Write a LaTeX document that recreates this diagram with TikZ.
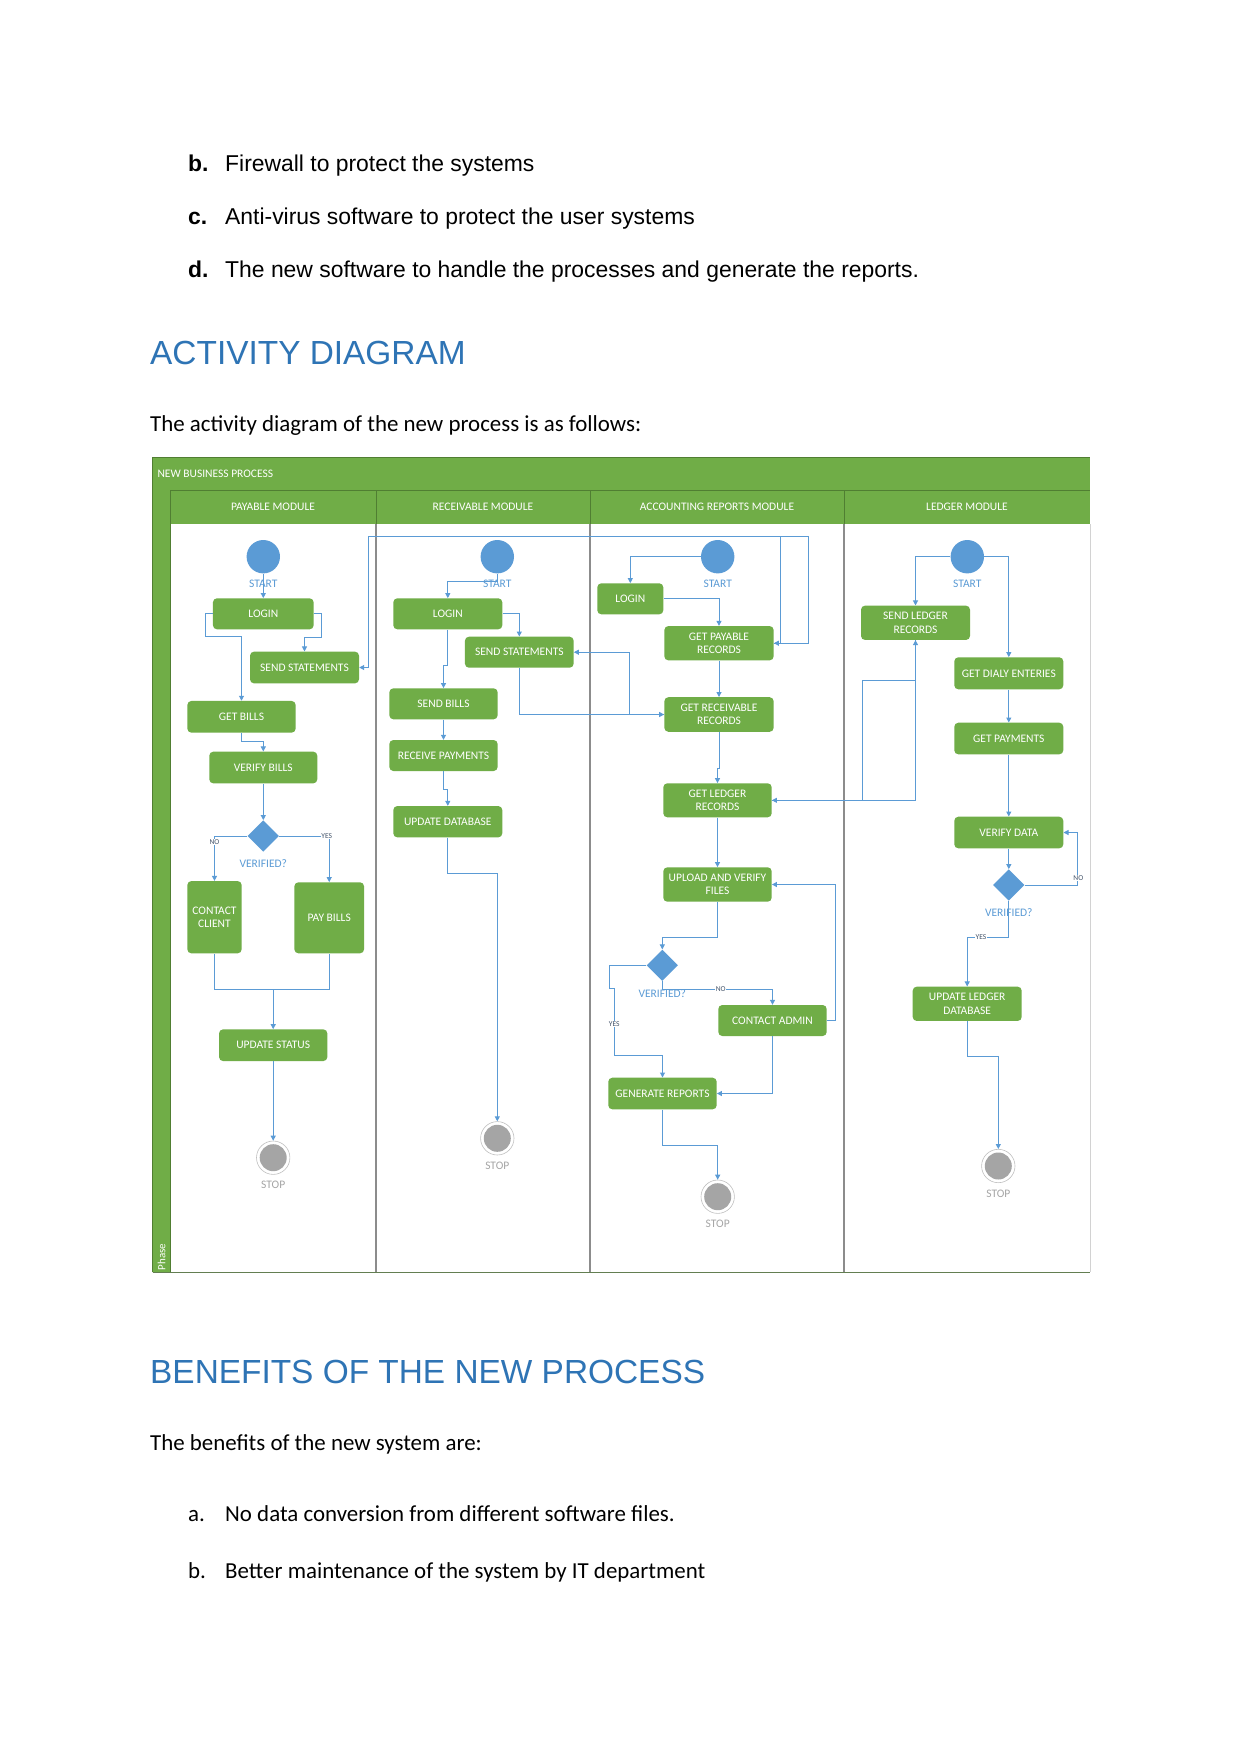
\documentclass[tikz,border=0pt]{standalone}
\usepackage{fontspec}
\setmainfont{Carlito}
\newfontfamily\arialf{Liberation Sans}
\usetikzlibrary{arrows.meta,shapes.geometric}
\definecolor{gfill}{HTML}{70AD47}
\definecolor{gdark}{HTML}{507E32}
\definecolor{cblue}{HTML}{5B9BD5}
\definecolor{hblue}{HTML}{2E74B5}
\definecolor{sgray}{HTML}{A5A5A5}
\definecolor{lgray}{HTML}{8C8C8C}
\definecolor{ynblue}{HTML}{44546A}
\begin{document}
\begin{tikzpicture}[x=1pt,y=-1pt,
  actbox/.style 2 args={fill=gfill, rounded corners=4pt, text=white, align=center, inner sep=0pt,
    minimum width=#1pt, minimum height=#2pt, font=\fontsize{11.5}{13.3}\selectfont},
  startnode/.style={circle, fill=cblue, minimum size=33.4pt, inner sep=0pt},
  decnode/.style={diamond, fill=cblue, minimum width=31.4pt, minimum height=31.4pt, inner sep=0pt},
  stopnode/.style={circle, draw=sgray!70, line width=0.6pt, fill=white, minimum size=33.4pt, inner sep=0pt},
  lab/.style={text=cblue, font=\fontsize{11.5}{13}\selectfont, inner sep=0pt},
  stoplab/.style={text=sgray, font=\fontsize{11.5}{13}\selectfont, inner sep=0pt},
  yn/.style={text=ynblue, font=\fontsize{7.5}{8}\selectfont, fill=white, inner sep=0.4pt},
  hdr/.style={text=white, font=\fontsize{11.5}{13}\selectfont, inner sep=0pt},
  conn/.style={draw=cblue, line width=1pt, -{Triangle[length=5pt,width=5pt]}},
  cline/.style={draw=cblue, line width=1pt},
  bodyA/.style={anchor=base west, inner sep=0pt, font=\arialf\fontsize{22.9}{27}\selectfont},
  bodyB/.style={anchor=base west, inner sep=0pt, font=\fontsize{22.9}{27}\selectfont},
  headS/.style={anchor=base west, inner sep=0pt, text=hblue, font=\arialf\fontsize{33.4}{40}\selectfont}
]
\useasboundingbox (0,0) rectangle (1241,1754);
\fill[white] (0,0) rectangle (1241,1754);

% ---------- page text ----------
\node[bodyA] (tb) at (188,171.5) {\bfseries b.};
\node[bodyA] (tb2) at (225,171.5) {Firewall to protect the systems};
\node[bodyA] (tc) at (188,224.5) {\bfseries c.};
\node[bodyA] (tc2) at (225,224.5) {Anti-virus software to protect the user systems};
\node[bodyA] (td) at (188,277) {\bfseries d.};
\node[bodyA] (td2) at (225,277) {The new software to handle the processes and generate the reports.};
\node[headS] (h1) at (150,364.5) {ACTIVITY DIAGRAM};
\node[bodyB] (p1) at (150,431.5) {The activity diagram of the new process is as follows:};
\node[headS] (h2) at (150,1383) {BENEFITS OF THE NEW PROCESS};
\node[bodyB] (p2) at (150,1450) {The benefits of the new system are:};
\node[bodyB] (ba) at (188,1521.5) {a.};
\node[bodyB] (ba2) at (225,1521.5) {No data conversion from different software files.};
\node[bodyB] (bb) at (188,1578.5) {b.};
\node[bodyB] (bb2) at (225,1578.5) {Better maintenance of the system by IT department};

% ---------- frame ----------
\fill[gfill] (152.7,457.7) rectangle (1090,490);
\fill[gfill] (152.7,490) rectangle (170,1272.3);
\fill[gfill] (170,490) rectangle (1090,524);
\draw[gdark, line width=1pt] (170,490) -- (1090,490);
\draw[gdark, line width=1pt] (170,490) -- (170,1272.3);
\draw[gdark, line width=0.8pt] (376,490) -- (376,524) (590,490) -- (590,524) (844,490) -- (844,524);
\draw[lgray, line width=1.3pt] (376,524) -- (376,1272.3) (590,524) -- (590,1272.3) (844,524) -- (844,1272.3);
\draw[gdark, line width=1pt] (152.7,1272.3) -- (152.7,457.7) -- (1090,457.7);
\draw[gdark!60!gray, line width=1pt] (152.7,1272.3) -- (1090,1272.3);
\draw[gray!35, line width=0.6pt] (1090,524) -- (1090,1272.3);
\node[hdr, anchor=west] (title) at (157.3,474) {NEW BUSINESS PROCESS};
\node[hdr] (hp) at (273,507) {PAYABLE MODULE};
\node[hdr] (hr) at (483,507) {RECEIVABLE MODULE};
\node[hdr] (ha) at (717,507) {ACCOUNTING REPORTS MODULE};
\node[hdr] (hl) at (967,507) {LEDGER MODULE};
\node[hdr, rotate=90, font=\fontsize{11}{12}\selectfont] (phase) at (161.5,1257) {Phase};

% ---------- payable lane ----------
\node[startnode] (pS) at (263.3,556.7) {};
\node[lab] (pSl) at (263.3,584) {START};
\node[actbox={100.7}{31}] (pLogin) at (263.3,613.8) {LOGIN};
\node[actbox={109}{31.7}] (pSend) at (304.5,667.5) {SEND STATEMENTS};
\node[actbox={108.3}{31.7}] (pGet) at (241.5,716.8) {GET BILLS};
\node[actbox={108}{31.7}] (pVer) at (263.3,767.5) {VERIFY BILLS};
\node[decnode] (pD) at (263.3,836) {};
\node[lab] (pDl) at (263.3,863.3) {VERIFIED?};
\node[actbox={54.3}{72.3}] (pCC) at (214.5,917.2) {CONTACT\\CLIENT};
\node[actbox={69.7}{71}] (pPay) at (329.2,917.8) {PAY BILLS};
\node[actbox={108.3}{31.7}] (pUpd) at (273.2,1045.2) {UPDATE STATUS};
\node[stopnode] (pStop) at (273.2,1157.7) {};
\fill[sgray] (pStop.center) circle (13.5pt);
\node[stoplab] (pStopl) at (273.2,1185) {STOP};
\coordinate (pJoin) at (273.2,989);

\draw[conn] (pS.south) -- (pLogin.north);
\draw[conn] (pLogin.east) -- (321,613.8) -- (321,637.7) -- (304.5,637.7) -- (pSend.north);
\draw[conn] (pLogin.west) -- (205.7,613.8) -- (205.7,636.7) -- (241.5,636.7) -- (pGet.north);
\draw[conn] (pGet.south) -- (241.5,741.7) -- (263.3,741.7) -- (pVer.north);
\draw[conn] (pVer.south) -- (pD.north);
\draw[conn] (pD.west) -- (214.5,836) -- (pCC.north);
\draw[conn] (pD.east) -- (329.2,836) -- (pPay.north);
\draw[cline] (pCC.south) -- (214.5,989) -- (329.2,989) -- (pPay.south);
\draw[conn] (pJoin) -- (pUpd.north);
\draw[conn] (pUpd.south) -- (pStop.north);
\node[yn] (pNo) at (214.5,842) {NO};
\node[yn] (pYes) at (326.7,836) {YES};

% ---------- receivable lane ----------
\node[startnode] (rS) at (497.3,556.7) {};
\node[lab] (rSl) at (497.3,584) {START};
\node[actbox={109}{31}] (rLogin) at (447.8,613.8) {LOGIN};
\node[actbox={108.7}{31}] (rSend) at (519.3,652.2) {SEND STATEMENTS};
\node[actbox={108.3}{31}] (rBills) at (443.5,703.8) {SEND BILLS};
\node[actbox={108.3}{31}] (rRecv) at (443.5,755.5) {RECEIVE PAYMENTS};
\node[actbox={109}{31.3}] (rUpd) at (447.8,821.7) {UPDATE DATABASE};
\node[stopnode] (rStop) at (497.3,1138.3) {};
\fill[sgray] (rStop.center) circle (13.5pt);
\node[stoplab] (rStopl) at (497.3,1165.7) {STOP};

\draw[conn] (rS.south) -- (497.3,581) -- (447.8,581) -- (rLogin.north);
\draw[conn] (rLogin.east) -- (519.3,613.8) -- (rSend.north);
\draw[conn] (rLogin.south) -- (447.8,665) -- (443.5,665) -- (rBills.north);
\draw[conn] (rBills.south) -- (rRecv.north);
\draw[conn] (rRecv.south) -- (443.5,789.3) -- (447.8,789.3) -- (rUpd.north);
\draw[conn] (rUpd.south) -- (447.8,873.3) -- (497.3,873.3) -- (rStop.north);

% ---------- accounting lane ----------
\node[startnode] (aS) at (717.7,556.7) {};
\node[lab] (aSl) at (717.7,584) {START};
\node[actbox={66}{31}] (aLogin) at (630.3,598.8) {LOGIN};
\node[actbox={109.3}{34.3}] (aPay) at (719,643.2) {GET PAYABLE\\RECORDS};
\node[actbox={109.3}{34.6}] (aRecv) at (719,714.5) {GET RECEIVABLE\\RECORDS};
\node[actbox={108.4}{34}] (aLed) at (717.5,800.3) {GET LEDGER\\RECORDS};
\node[actbox={108.4}{34.4}] (aUp) at (717.5,884.5) {UPLOAD AND VERIFY\\FILES};
\node[decnode] (aD) at (662.3,965.3) {};
\node[lab] (aDl) at (662.3,993.3) {VERIFIED?};
\node[actbox={108.4}{31}] (aCA) at (772.5,1020.5) {CONTACT ADMIN};
\node[actbox={108.4}{31.6}] (aGen) at (662.5,1093.5) {GENERATE REPORTS};
\node[stopnode] (aStop) at (717.7,1196.7) {};
\fill[sgray] (aStop.center) circle (13.5pt);
\node[stoplab] (aStopl) at (717.7,1223.3) {STOP};
\coordinate (loopA) at (780.7,536);

\draw[conn] (aS.west) -- (630.3,556.7) -- (aLogin.north);
\draw[conn] (aLogin.east) -- (719,598.8) -- (aPay.north);
\draw[conn] (aPay.south) -- (aRecv.north);
\draw[conn] (aRecv.south) -- (719,768.3) -- (717.5,768.3) -- (aLed.north);
\draw[conn] (aLed.south) -- (aUp.north);
\draw[conn] (aUp.south) -- (717.5,937.3) -- (662.3,937.3) -- (aD.north);
\draw[conn] (aD.west) -- (609.3,965.3) -- (609.3,988.3) -- (614.3,988.3) -- (614.3,1055) -- (662.5,1055) -- (aGen.north);
\draw[conn] (aD.south) -- (662.3,989.3) -- (772.5,989.3) -- (aCA.north);
\draw[conn] (aCA.east) -- (835.7,1020.5) -- (835.7,884.5) -- (aUp.east);
\draw[conn] (aCA.south) -- (772.5,1093.5) -- (aGen.east);
\draw[conn] (aGen.south) -- (662.5,1145) -- (717.7,1145) -- (aStop.north);
\node[yn] (aYes) at (614.3,1024.3) {YES};
\node[yn] (aNo) at (720.7,989.3) {NO};

% cross-lane connectors
\draw[conn] (rSend.south) -- (519.3,714.5) -- (aRecv.west);
\draw[conn] (aRecv.west) -- (629.3,714.5) -- (629.3,652.2) -- (rSend.east);
\draw[conn] (aPay.east) -- (808.3,643.2) -- (808.3,536) -- (368.3,536) -- (368.3,667.5) -- (pSend.east);
\draw[conn] (loopA) -- (780.7,643.2) -- (aPay.east);

% ---------- ledger lane ----------
\node[startnode] (lS) at (967.3,556.7) {};
\node[lab] (lSl) at (967.3,584) {START};
\node[actbox={109}{34.3}] (lSend) at (915.5,622.8) {SEND LEDGER\\RECORDS};
\node[actbox={109}{32}] (lDaily) at (1008.8,673.3) {GET DIALY ENTERIES};
\node[actbox={109}{31.6}] (lPay) at (1008.8,738.5) {GET PAYMENTS};
\node[actbox={109}{31.6}] (lVer) at (1008.8,832.5) {VERIFY DATA};
\node[decnode] (lD) at (1008.8,885) {};
\node[lab] (lDl) at (1008.8,912.3) {VERIFIED?};
\node[actbox={109}{34.3}] (lUpd) at (967.2,1003.8) {UPDATE LEDGER\\DATABASE};
\node[stopnode] (lStop) at (998.3,1166) {};
\fill[sgray] (lStop.center) circle (13.5pt);
\node[stoplab] (lStopl) at (998.3,1193.3) {STOP};

\draw[conn] (lS.west) -- (915.5,556.7) -- (lSend.north);
\draw[conn] (lS.east) -- (1008.8,556.7) -- (lDaily.north);
\draw[conn] (lDaily.south) -- (lPay.north);
\draw[conn] (lPay.south) -- (lVer.north);
\draw[conn] (lVer.south) -- (lD.north);
\draw[conn] (lD.east) -- (1077.7,885) -- (1077.7,832.5) -- (lVer.east);
\draw[conn] (lD.south) -- (1008.8,937.3) -- (967.2,937.3) -- (lUpd.north);
\draw[conn] (lUpd.south) -- (967.2,1056.7) -- (998.3,1056.7) -- (lStop.north);
\draw[conn] (lSend.south) -- (915.5,800.3) -- (aLed.east);
\draw[conn] (aLed.east) -- (862.7,800.3) -- (862.7,680.7) -- (915.5,680.7) -- (lSend.south);
\node[yn] (lNo) at (1078.3,878.3) {NO};
\node[yn] (lYes) at (981,937.3) {YES};
\end{tikzpicture}
\end{document}
